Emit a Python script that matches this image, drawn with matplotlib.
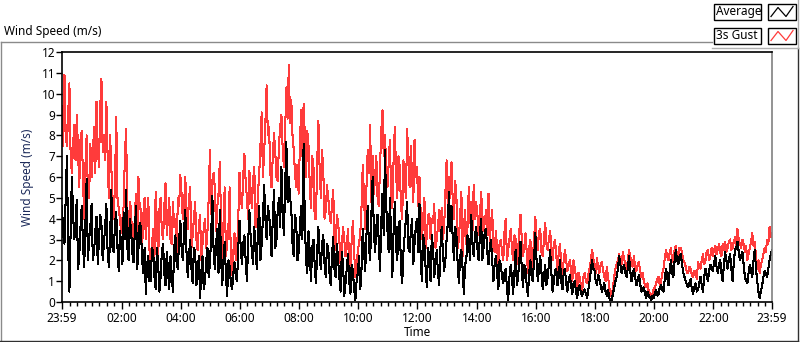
import matplotlib
matplotlib.use("Agg")
import matplotlib.pyplot as plt
from matplotlib.lines import Line2D
from matplotlib.patches import Rectangle
import numpy as np

# 3 s gust (m/s), samples on the 5-minute grid from 23:59, one row per hour
gust_3s = [
    9.4, 10.9, 7.5, 10.5, 6.2, 8.5, 9.0, 5.5, 8.2, 4.0, 8.0, 5.0,
    6.0, 8.4, 9.6, 6.5, 10.7, 8.0, 9.6, 5.0, 6.5, 4.0, 8.9, 4.5,
    3.3, 4.6, 8.3, 3.0, 4.5, 2.5, 5.2, 6.0, 4.4, 4.2, 3.0, 5.0,
    1.6, 3.5, 5.3, 2.0, 5.0, 3.0, 5.7, 4.0, 3.0, 4.8, 4.0, 5.0,
    6.1, 4.0, 6.0, 3.5, 5.5, 3.2, 4.8, 2.5, 4.2, 2.8, 4.0, 3.4,
    7.3, 5.6, 5.5, 4.6, 6.7, 2.0, 5.5, 2.8, 5.5, 1.3, 3.3, 2.5,
    6.2, 4.5, 7.1, 5.0, 6.3, 4.5, 6.5, 4.0, 6.2, 9.1, 7.2, 10.4,
    8.4, 5.5, 8.1, 6.0, 7.5, 9.0, 6.5, 10.3, 11.4, 9.7, 7.3, 5.5,
    5.2, 9.2, 9.5, 6.0, 7.5, 4.5, 6.5, 4.0, 8.7, 5.0, 6.2, 4.4,
    5.0, 3.8, 5.4, 2.5, 3.8, 1.8, 3.6, 2.2, 3.5, 1.4, 3.9, 1.2,
    2.5, 3.3, 6.6, 3.5, 7.3, 8.5, 7.0, 6.0, 5.0, 6.5, 9.2, 8.0,
    5.5, 7.8, 4.5, 8.4, 5.0, 6.5, 4.0, 5.8, 8.3, 5.5, 6.0, 7.8,
    6.5, 6.0, 3.0, 5.0, 3.2, 4.2, 4.0, 4.7, 3.0, 4.4, 4.5, 3.6,
    6.8, 6.0, 6.7, 4.0, 5.0, 3.0, 5.3, 3.5, 2.8, 5.5, 4.8, 5.6,
    4.8, 3.2, 5.3, 3.4, 4.4, 5.2, 3.8, 2.6, 3.4, 1.8, 3.0, 2.0,
    4.0, 2.5, 3.5, 2.0, 3.0, 2.5, 4.2, 2.2, 3.3, 1.4, 3.0, 2.2,
    4.1, 2.5, 3.5, 2.2, 3.8, 2.5, 3.4, 2.0, 3.0, 1.5, 2.8, 1.3,
    2.5, 1.5, 2.0, 1.0, 1.6, 0.7, 1.2, 0.5, 1.4, 0.9, 1.6, 2.5,
    1.8, 2.1, 1.4, 1.9, 1.2, 1.7, 0.7, 0.25, 1.2, 1.8, 2.3, 1.8,
    2.1, 1.6, 2.5, 1.8, 2.2, 1.5, 1.9, 1.2, 1.0, 0.7, 0.5, 0.3,
    0.6, 0.9, 1.2, 1.0, 1.6, 2.5, 2.0, 2.6, 2.2, 2.7, 2.3, 2.6,
    2.0, 1.7, 1.4, 1.6, 1.2, 1.5, 1.9, 1.6, 2.3, 2.0, 2.5, 2.2,
    2.2, 2.7, 2.5, 2.4, 2.8, 2.9, 2.6, 3.0, 2.6, 3.1, 3.5, 2.8,
    3.0, 2.4, 2.0, 2.6, 3.3, 2.9, 1.6, 1.4, 2.0, 2.6, 3.0, 3.6, 3.3,
]

# 3 s gust readings taken half-way between the samples above
gust_3s_between = [
    7.5, 8.0, 9.0, 7.0, 7.6, 6.8, 7.2, 7.8, 6.0, 6.6, 5.2, 7.6,
    7.0, 6.2, 7.4, 9.3, 7.2, 6.8, 7.0, 8.0, 4.8, 5.8, 5.0, 4.0,
    4.0, 7.0, 4.4, 4.8, 2.8, 4.0, 3.0, 4.6, 2.6, 5.0, 4.2, 2.5,
    2.8, 2.2, 3.8, 4.4, 3.4, 4.6, 3.2, 5.0, 2.8, 3.6, 2.4, 4.6,
    5.2, 4.6, 4.5, 5.0, 2.6, 4.0, 3.0, 3.6, 2.0, 3.5, 2.6, 5.0,
    4.2, 6.2, 3.4, 5.2, 4.0, 3.8, 2.2, 3.6, 2.0, 2.4, 2.0, 4.0,
    5.0, 6.0, 5.8, 4.0, 5.4, 5.8, 3.6, 5.2, 7.5, 6.0, 8.6, 8.0,
    6.2, 7.0, 7.2, 5.8, 8.4, 7.4, 8.2, 8.8, 8.6, 8.0, 6.2, 6.6,
    7.6, 7.0, 8.0, 8.2, 5.6, 7.0, 4.0, 6.6, 6.4, 7.3, 4.0, 5.6,
    4.2, 4.6, 3.2, 4.2, 3.0, 2.6, 3.0, 2.6, 2.0, 3.0, 2.4, 1.6,
    2.8, 4.6, 5.0, 5.5, 6.2, 4.8, 5.2, 7.0, 4.6, 8.2, 7.0, 6.5,
    6.6, 5.2, 6.8, 6.2, 7.0, 4.6, 6.8, 5.0, 6.8, 7.5, 4.8, 6.0,
    4.6, 4.2, 4.0, 2.6, 4.2, 3.0, 3.8, 2.6, 3.6, 3.4, 3.0, 5.2,
    4.4, 5.0, 4.8, 5.8, 2.6, 4.2, 2.2, 4.4, 3.6, 3.8, 3.4, 4.0,
    4.2, 4.0, 4.2, 3.8, 3.2, 2.8, 4.4, 2.4, 2.6, 2.8, 2.4, 3.4,
    2.0, 3.0, 2.6, 3.2, 1.8, 3.4, 3.0, 2.6, 2.4, 2.6, 1.6, 3.0,
    3.0, 3.4, 2.4, 3.0, 2.8, 3.0, 2.6, 2.8, 2.2, 2.4, 1.8, 2.0,
    2.0, 1.8, 1.5, 2.0, 1.2, 1.4, 0.8, 1.2, 1.0, 1.3, 2.0, 2.1,
    1.4, 1.6, 1.8, 1.5, 1.0, 1.2, 0.4, 0.7, 1.6, 2.0, 1.9, 2.4,
    1.8, 2.0, 2.2, 1.7, 1.6, 1.8, 1.5, 1.4, 0.8, 0.9, 0.4, 0.4,
    0.7, 1.1, 0.8, 1.4, 2.1, 2.2, 2.4, 1.9, 2.5, 2.2, 2.6, 2.4,
    1.9, 1.4, 1.7, 1.3, 1.5, 1.1, 1.7, 2.0, 1.8, 2.4, 2.0, 2.6,
    2.5, 2.3, 2.8, 2.2, 2.5, 2.4, 2.9, 2.5, 2.9, 2.7, 3.0, 2.6,
    2.8, 2.7, 2.3, 2.9, 2.7, 2.2, 2.0, 1.8, 2.3, 2.4, 2.8, 3.1,
]

# Average wind speed (m/s), 5-minute grid
average = [
    4.6, 2.8, 7.0, 0.5, 6.0, 3.0, 4.9, 2.2, 4.6, 1.7, 5.9, 3.0,
    4.7, 2.4, 4.1, 3.0, 3.7, 2.8, 4.7, 1.7, 5.4, 2.4, 4.3, 1.5,
    2.8, 4.3, 5.4, 2.0, 3.5, 1.9, 4.6, 2.5, 3.6, 1.4, 0.4, 2.2,
    1.0, 2.4, 0.6, 1.8, 1.2, 2.8, 0.8, 1.5, 2.2, 0.5, 3.2, 1.6,
    3.9, 2.0, 4.4, 1.2, 3.0, 0.9, 2.4, 1.4, 0.2, 2.2, 1.0, 2.6,
    1.8, 5.1, 1.6, 3.5, 4.4, 0.8, 2.9, 0.3, 1.7, 0.6, 1.9, 1.0,
    3.9, 1.8, 3.2, 1.0, 4.4, 2.5, 3.6, 1.6, 4.6, 2.8, 5.6, 3.0,
    4.2, 2.2, 5.4, 3.0, 5.0, 6.5, 3.2, 7.7, 6.0, 4.5, 2.2, 3.8,
    2.4, 4.6, 7.6, 2.0, 3.4, 1.0, 3.0, 0.9, 3.6, 1.6, 3.2, 1.2,
    2.6, 0.8, 3.1, 1.2, 2.0, 0.5, 1.8, 0.9, 2.3, 0.4, 1.5, 0.1,
    1.4, 0.6, 3.5, 1.5, 4.6, 2.0, 6.0, 2.4, 4.2, 1.5, 5.2, 7.3,
    3.5, 5.0, 1.2, 4.8, 2.0, 3.9, 0.9, 3.2, 4.8, 2.4, 4.0, 2.8,
    4.0, 4.7, 1.0, 2.8, 0.7, 2.0, 3.2, 1.2, 2.5, 0.8, 3.6, 1.5,
    3.0, 5.3, 4.6, 2.0, 3.2, 0.9, 2.5, 0.4, 2.0, 3.0, 4.2, 2.2,
    3.6, 2.0, 4.0, 2.6, 3.5, 1.8, 3.0, 1.0, 2.2, 0.6, 1.8, 0.9,
    1.6, 0.1, 1.8, 0.4, 2.5, 1.2, 2.9, 0.7, 1.6, 0.3, 2.0, 1.0,
    3.3, 1.0, 2.2, 0.6, 1.8, 1.2, 2.5, 0.5, 1.5, 0.8, 2.0, 0.6,
    1.6, 0.5, 1.3, 0.4, 1.0, 0.2, 0.8, 0.3, 0.6, 0.2, 1.0, 2.0,
    1.5, 0.8, 1.1, 0.5, 0.9, 0.3, 0.2, 0.1, 0.7, 1.2, 2.2, 1.4,
    1.8, 1.2, 2.2, 1.0, 1.6, 0.8, 1.3, 0.5, 0.7, 0.2, 0.3, 0.1,
    0.2, 0.6, 0.4, 0.8, 0.5, 1.6, 0.8, 2.0, 1.2, 2.5, 1.8, 2.3,
    1.4, 1.0, 0.7, 1.1, 0.4, 0.9, 0.6, 1.2, 0.5, 1.6, 1.0, 1.8,
    1.5, 2.2, 1.4, 2.0, 1.0, 2.4, 1.6, 2.3, 1.0, 2.5, 2.9, 2.0,
    2.4, 1.2, 0.9, 1.8, 1.2, 2.5, 1.0, 0.2, 0.8, 1.5, 1.2, 2.0, 2.5,
]

# Average readings taken half-way between the samples above
average_between = [
    3.2, 5.0, 2.6, 3.4, 4.2, 3.8, 1.6, 3.6, 2.8, 3.8, 2.0, 3.6,
    2.0, 3.4, 1.8, 4.2, 2.0, 3.6, 2.4, 3.0, 2.6, 3.8, 2.6, 3.4,
    1.8, 3.0, 2.6, 4.0, 2.4, 3.2, 1.6, 3.8, 2.0, 2.6, 1.8, 1.0,
    2.6, 1.2, 2.6, 0.5, 2.4, 1.4, 2.4, 0.6, 1.2, 2.6, 1.8, 3.0,
    2.6, 3.4, 2.4, 2.2, 1.6, 2.6, 0.8, 2.2, 1.4, 0.6, 2.0, 1.2,
    3.2, 2.4, 2.8, 1.4, 2.2, 2.0, 1.2, 2.0, 0.9, 1.4, 1.2, 2.6,
    2.6, 2.8, 2.0, 2.8, 3.2, 1.8, 2.6, 3.6, 2.0, 4.0, 4.0, 4.6,
    3.4, 4.0, 2.6, 4.4, 3.6, 4.4, 5.5, 4.8, 5.0, 2.8, 4.2, 2.0,
    3.6, 3.0, 3.8, 1.4, 2.4, 2.6, 1.8, 2.4, 2.2, 2.8, 1.8, 2.8,
    1.4, 2.2, 1.6, 2.8, 1.2, 2.4, 0.3, 1.6, 1.0, 1.8, 0.6, 1.0,
    2.2, 1.6, 2.4, 3.2, 2.6, 4.2, 3.4, 3.6, 2.8, 3.8, 3.2, 4.6,
    2.4, 3.2, 3.4, 2.6, 3.6, 1.6, 2.4, 4.0, 2.6, 3.4, 1.8, 3.6,
    2.4, 2.0, 3.2, 1.6, 2.6, 1.0, 2.6, 1.8, 1.4, 2.6, 2.4, 2.0,
    3.8, 3.4, 3.0, 3.6, 1.8, 2.2, 1.6, 1.8, 3.2, 2.0, 2.8, 3.2,
    2.6, 3.2, 2.0, 3.4, 2.4, 2.6, 2.0, 1.8, 1.4, 2.0, 1.2, 1.4,
    0.6, 1.2, 1.2, 1.4, 0.8, 2.0, 1.6, 1.8, 0.8, 1.4, 1.2, 2.2,
    2.0, 1.6, 1.4, 1.2, 0.8, 1.8, 1.4, 1.0, 1.6, 1.2, 1.0, 1.4,
    0.9, 1.0, 0.8, 0.9, 0.5, 0.7, 0.4, 0.5, 0.4, 0.6, 1.5, 1.6,
    1.0, 1.3, 0.8, 0.7, 0.5, 0.6, 0.1, 0.4, 1.0, 1.6, 1.8, 1.6,
    1.4, 1.6, 1.5, 1.3, 1.2, 1.0, 0.9, 0.6, 0.4, 0.5, 0.2, 0.3,
    0.4, 0.3, 0.7, 0.6, 1.1, 1.2, 1.5, 1.4, 2.0, 2.0, 2.2, 1.8,
    1.2, 0.8, 0.9, 0.6, 0.7, 0.5, 0.9, 0.8, 1.2, 1.3, 1.5, 1.6,
    1.9, 1.7, 1.8, 1.4, 1.8, 2.0, 2.0, 1.6, 1.9, 2.6, 2.4, 2.2,
    1.8, 1.0, 1.4, 1.5, 2.0, 1.6, 0.5, 0.5, 1.2, 1.4, 1.6, 2.3,
]

sample_step_min = 5
tick_minutes = [0, 121, 241, 361, 481, 601, 721, 841, 961, 1081, 1201, 1321, 1440]
tick_labels = ["23:59", "02:00", "04:00", "06:00", "08:00", "10:00", "12:00",
               "14:00", "16:00", "18:00", "20:00", "22:00", "23:59"]
y_ticks = list(range(0, 13))
series_names = ["Average", "3s Gust"]


def merge(on_grid, between):
    out = np.empty(len(on_grid) + len(between))
    out[0::2] = on_grid
    out[1::2] = between
    return out


gust_all = merge(gust_3s, gust_3s_between)
avg_all = merge(average, average_between)
t = np.arange(len(gust_all)) * (sample_step_min / 2)

FONT = "Noto Sans"
plt.rcParams["font.family"] = [FONT, "DejaVu Sans"]

W, H = 800, 342
fig = plt.figure(figsize=(W / 100, H / 100), dpi=100)
fig.patch.set_facecolor("white")

ax = fig.add_axes([62 / W, 1 - 302 / H, (772 - 62) / W, (302 - 52) / H])
ax.plot(t, gust_all, color="#ff3b3b", lw=0.75, antialiased=False)
ax.plot(t, avg_all, color="black", lw=0.75, antialiased=False)

ax.set_xlim(0, 1440)
ax.set_ylim(0, 12)
ax.set_yticks(y_ticks)
ax.set_yticklabels([str(v) for v in y_ticks], fontsize=8.5)
ax.set_xticks(tick_minutes)
ax.set_xticklabels(tick_labels, fontsize=8.5)
minor = [m for m in range(16, 1440, 15) if all(abs(m - tm) > 3 for tm in tick_minutes)]
ax.set_xticks(minor, minor=True)
ax.tick_params(axis="x", which="major", length=5, width=1, pad=2, direction="out")
ax.tick_params(axis="x", which="minor", length=3, width=1, direction="out")
ax.tick_params(axis="y", which="major", length=4, width=1, pad=1, direction="out")
for s in ["left", "top", "bottom"]:
    ax.spines[s].set_color("black")
    ax.spines[s].set_linewidth(1.2)
ax.spines["right"].set_color("#808080")
ax.spines["right"].set_linewidth(1.2)

ax.set_xlabel("Time", fontsize=8.5, labelpad=1)
ax.set_ylabel("Wind Speed (m/s)", fontsize=8.5, color="#1c2a5a", labelpad=5)


def fl(x0, y0, x1, y1, c, lw=1.0):
    fig.add_artist(Line2D([x0 / W, x1 / W], [1 - y0 / H, 1 - y1 / H], color=c, lw=lw))


# outer panel frame
fl(0.5, 42, 712, 42, "#8a8a8a")
fl(0.5, 42, 0.5, 341, "#8a8a8a")
fl(0, 341, 798, 341, "#303030")
fl(798, 48, 798, 341, "#303030")
fl(712, 48, 798, 48, "#b0b0b0")
fl(798, 0, 798, 48, "#b0b0b0")

fig.text(4 / W, 1 - 32 / H, "Wind Speed (m/s)", fontsize=8.5, va="center", ha="left")

# legend
rows = [(3.5, "black"), (27.5, "#ff3b3b")]
for (top, col), name in zip(rows, series_names):
    fig.add_artist(Rectangle((714 / W, 1 - (top + 16) / H), 47 / W, 16 / H,
                             facecolor="white", edgecolor="black", lw=1.0))
    fig.text(716 / W, 1 - (top + 8) / H, name, fontsize=8.5, va="center", ha="left")
    fig.add_artist(Rectangle((768 / W, 1 - (top + 16) / H), 28 / W, 16 / H,
                             facecolor="white", edgecolor="black", lw=1.0))
    xs = [771, 778, 786, 793]
    ys = [top + 13, top + 4, top + 13, top + 3]
    fig.add_artist(Line2D([x / W for x in xs], [1 - y / H for y in ys], color=col, lw=0.9))

fig.savefig("out.png", dpi=100, facecolor="white")
